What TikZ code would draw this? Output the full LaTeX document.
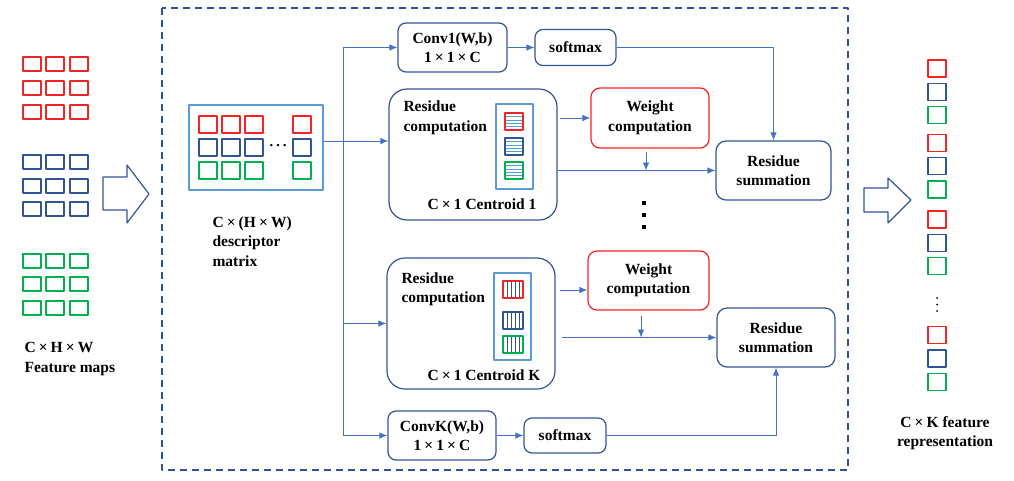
\documentclass[tikz,border=0pt]{standalone}
\usepackage{fontspec}
\setmainfont{Liberation Serif}
\usetikzlibrary{arrows.meta}
\definecolor{dblue}{HTML}{2F5597}
\definecolor{lblue}{HTML}{4472C4}
\definecolor{mblue}{HTML}{5B9BD5}
\definecolor{wred}{RGB}{245,35,35}
\definecolor{fgreen}{HTML}{00B050}
\newcommand{\tms}{\kern.2em×\kern.2em}

\begin{document}
\begin{tikzpicture}[x=1pt,y=-1pt,>={Latex[length=8pt,width=6.5pt]},line join=bevel,
  font=\fontsize{15.5}{19.5}\selectfont\bfseries,
  blk/.style={draw=dblue,line width=1.2pt,rounded corners=8pt,align=center,inner sep=0pt},
  res/.style={draw=dblue,line width=1.2pt,rounded corners=18pt,inner sep=0pt},
  wgt/.style={draw=wred,line width=1.2pt,rounded corners=9pt,align=center,inner sep=0pt},
  frm/.style={draw=mblue,line width=1.3pt,inner sep=0pt},
  lnk/.style={draw=lblue,line width=0.9pt},
  sq/.style={line width=1.2pt}]
  \useasboundingbox (0,0) rectangle (1014,480);
  \draw [dblue,line width=2pt,dash pattern=on 7pt off 5pt] (162,8) rectangle (848,470);
  \foreach \t/\c in {57/wred,81/wred,105/wred,155/dblue,179/dblue,202/dblue,254/fgreen,277/fgreen,301/fgreen}
    \foreach \l in {23,46,70} \draw [sq,\c] (\l,\t) rectangle ++(18,14);
  \node (fm) at (21,359) [anchor=west,align=left] {C\tms H\tms W\\Feature maps};
  \draw [dblue,line width=1.2pt] (103,177) -- (127,177) -- (127,165) -- (149,194)
    -- (127,223) -- (127,210) -- (103,210) -- cycle;
  \node (mat) at (256,147.5) [frm,minimum width=134pt,minimum height=85pt] {};
  \foreach \t/\c in {116/wred,139/dblue,162/fgreen}
    \foreach \l in {199,222,245,293} \draw [sq,\c] (\l,\t) rectangle ++(18,17);
  \node (dots) at (278,146) {\fontsize{20}{20}\selectfont\mdseries …};
  \node (desc) at (209,241.5) [anchor=west,align=left] {C\tms(H\tms W)\\descriptor\\matrix};
  \node (conv1) at (452.5,47.5) [blk,minimum width=109pt,minimum height=49pt] {Conv1(W,b)\\1\tms1\tms C};
  \node (sm1) at (575.5,47.5) [blk,minimum width=81pt,minimum height=36pt] {softmax};
  \node (res1) at (473,154.5) [res,minimum width=168pt,minimum height=131pt] {};
  \node (rc1) at (400,118) [anchor=west,align=left] {Residue\\computation};
  \node (cen1) at (514.5,146.5) [frm,minimum width=37pt,minimum height=85pt] {};
  \foreach \t/\c in {113/wred,138/dblue,162/fgreen}{
    \foreach \s in {3.4,6.8,10.2,13.6} \draw [mblue,line width=0.6pt] (505,\t+\s) -- ++(18,0);
    \draw [sq,\c] (505,\t) rectangle ++(18,17);}
  \node (c1) at (482,204) {C\tms1 Centroid 1};
  \node (wt1) at (650,118) [wgt,minimum width=118pt,minimum height=60pt] {Weight\\computation};
  \node (sum1) at (773.5,170.5) [blk,rounded corners=10pt,minimum width=115pt,minimum height=59pt] {Residue\\summation};
  \foreach \d in {201,213,225} \fill (642,\d) rectangle ++(4,4);
  \node (resK) at (471,323.5) [res,minimum width=168pt,minimum height=131pt] {};
  \node (rcK) at (398,289.5) [anchor=west,align=left] {Residue\\computation};
  \node (cenK) at (512.5,316.5) [frm,minimum width=37pt,minimum height=87pt] {};
  \foreach \t/\c in {281/wred,312/dblue,336/fgreen}{
    \foreach \s in {4,8,12,16} \draw [dblue,line width=0.6pt] (503+\s,\t) -- ++(0,17);
    \draw [sq,\c] (503,\t) rectangle ++(20,17);}
  \node (cK) at (484,375) {C\tms1 Centroid K};
  \node (wtK) at (648.5,280.5) [wgt,minimum width=121pt,minimum height=59pt] {Weight\\computation};
  \node (sumK) at (776,337.5) [blk,rounded corners=10pt,minimum width=118pt,minimum height=59pt] {Residue\\summation};
  \node (convK) at (442,435.5) [blk,minimum width=108pt,minimum height=49pt] {ConvK(W,b)\\1\tms1\tms C};
  \node (smK) at (565,435.5) [blk,minimum width=82pt,minimum height=35pt] {softmax};
  \coordinate (bus) at (343,141);
  \draw [lnk,->] (mat.east |- bus) -- (res1.west |- bus);
  \draw [lnk] (bus |- conv1) -- (bus |- convK);
  \draw [lnk,->] (bus |- conv1) -- (conv1);
  \draw [lnk,->] (bus |- resK) -- (resK);
  \draw [lnk,->] (bus |- convK) -- (convK);
  \draw [lnk,->] (conv1) -- (sm1);
  \draw [lnk,->] (sm1) -| (sum1);
  \draw [lnk,->] (convK) -- (smK);
  \draw [lnk,->] (smK) -| (sumK);
  \draw [lnk,->] ([xshift=2pt]res1.east |- wt1) -- (wt1);
  \draw [lnk,->] (res1.east |- sum1) -- (sum1);
  \draw [lnk,->] ([xshift=-4pt,yshift=-3pt]wt1.south) -- ([xshift=-4pt]wt1.south |- sum1);
  \coordinate (wk) at (570,290);
  \draw [lnk,->] ([xshift=4pt]resK.east |- wk) -- (wtK.west |- wk);
  \draw [lnk,->] ([xshift=6pt]resK.east |- sumK) -- (sumK);
  \draw [lnk,->] ([xshift=-7.5pt,yshift=-5pt]wtK.south) -- ([xshift=-7.5pt]wtK.south |- sumK);
  \draw [dblue,line width=1.2pt] (864,188) -- (888,188) -- (888,178) -- (911,200)
    -- (888,223) -- (888,212) -- (864,212) -- cycle;
  \foreach \t/\c in {60/wred,83.3/dblue,106.7/fgreen,134.3/wred,157.7/dblue,181/fgreen,211/wred,234.3/dblue,257.7/fgreen,326.7/wred,350/dblue,373.3/fgreen}
    \draw [sq,\c] (928,\t) rectangle ++(18,17);
  \foreach \d in {298,304.5,311} \fill (937,\d) circle (1pt);
  \node (rep) at (945,433) [align=center] {C\tms K feature\\representation};
\end{tikzpicture}
\end{document}
